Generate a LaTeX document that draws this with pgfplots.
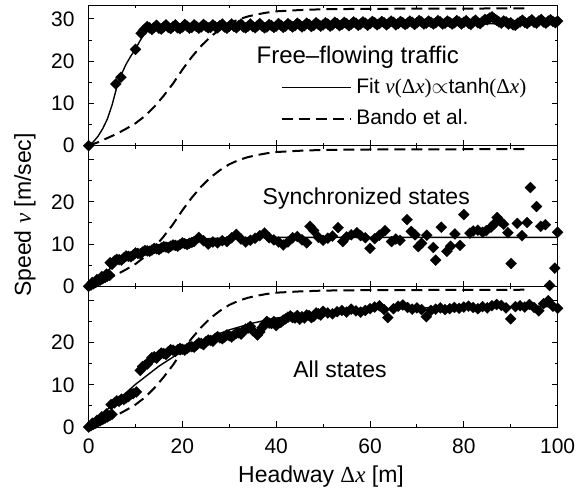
\documentclass[border=0pt]{standalone}
\usepackage{fontspec}
\setmainfont{Liberation Sans}
\newfontfamily\serif{Liberation Serif}
\usepackage{pgfplots}
\pgfplotsset{compat=1.18}
\usetikzlibrary{plotmarks}

\newcommand{\vv}{{\serif\itshape v}}
\newcommand{\dx}{{\serif Δ\textit{x}}}
\newcommand{\lp}{{\serif(}}
\newcommand{\rp}{{\serif)}}

\pgfplotsset{
  panel/.style={
    scale only axis, width=234.5pt, height=70.33pt,
    xmin=0, xmax=100, ymin=0, ymax=33.3,
    clip=false,
    axis line style={line width=0.5pt},
    tick align=inside, xtick pos=both, ytick pos=both,
    xtick={0,20,...,100}, minor xtick={10,30,...,90},
    ytick={0,10,20,30}, minor ytick={5,15,25},
    major tick length=2.8pt, minor tick length=1.5pt,
    every tick/.style={line width=0.5pt, black},
    tick label style={font=\fontsize{10.5}{12}\selectfont},
    /pgf/number format/assume math mode=true,
    yticklabel style={xshift=-3.5pt},
    xticklabel style={yshift=-2.5pt},
    anchor=south west,
  },
  noxlabels/.style={xticklabels={{},{},{},{},{},{}}},
  dat/.style={only marks, mark=square*, mark size=1.95pt,
    mark options={rotate=45, fill=black, draw=black, line width=0.1pt}},
  fitl/.style={black, line width=0.7pt, mark=none},
  bandol/.style={black, line width=1pt, dash pattern=on 5.5pt off 3pt, mark=none},
}

\begin{document}
\begin{tikzpicture}
\path[use as bounding box] (0,0) rectangle (294pt,247.5pt);

% ---------------- top panel: free-flowing traffic
\begin{axis}[panel, noxlabels, at={(44.3pt,174.67pt)},
  legend style={at={(axis cs:41,17)}, anchor=north west, draw=none, fill=none,
    font=\fontsize{10.5}{12.5}\selectfont, inner sep=0pt, row sep=2.5pt,
    /tikz/every even column/.append style={column sep=4pt}},
  legend cell align=left,
  legend image code/.code={\draw[#1] (0pt,0pt) -- (34.5pt,0pt);}]
\addplot[dat, forget plot] coordinates {
(0,0) (5.8,14.6) (6.9,16.2) (10,22.8) (11.2,26.6) (11.7,27.3)
(12,27.6) (12.5,28.2) (13,27.9) (13.5,27.5) (14,28.0) (14.5,28.5) (15,27.8) (15.5,27.6)
(16,28.1) (16.5,28.6) (17,28.0) (17.5,27.7) (18,28.2) (18.5,28.6) (19,27.9) (19.5,27.7)
(20,28.1) (20.5,28.7) (21,28.3) (21.5,27.8) (22,28.0) (22.5,28.6) (23,28.2) (23.5,27.8)
(24,28.1) (24.5,28.7) (25,28.3) (25.5,27.9) (26,28.0) (26.5,28.6) (27,28.2) (27.5,27.9)
(28,28.4) (28.5,28.8) (29,28.1) (29.5,27.8) (30,28.3) (30.5,28.8) (31,28.2) (31.5,27.9)
(32,28.4) (32.5,28.8) (33,28.1) (33.5,27.9) (34,28.3) (34.5,28.8) (35,28.2) (35.5,27.9)
(36,28.4) (36.5,28.9) (37,28.3) (37.5,27.9) (38,28.1) (38.5,28.7) (39,28.4) (39.5,28.0)
(40,28.3) (40.5,28.9) (41,28.5) (41.5,28.0) (42,28.3) (42.5,28.9) (43,28.5) (43.5,28.1)
(44,28.4) (44.5,29.0) (45,28.6) (45.5,28.1) (46,28.4) (46.5,29.0) (47,28.7) (47.5,28.2)
(48,28.5) (48.5,29.1) (49,28.7) (49.5,28.3) (50,28.6) (50.5,29.1) (51,28.8) (51.5,28.3)
(52,28.6) (52.5,29.2) (53,28.9) (53.5,28.4) (54,28.7) (54.5,29.2) (55,28.9) (55.5,28.4)
(56,28.8) (56.5,29.3) (57,29.0) (57.5,28.5) (58,28.8) (58.5,29.3) (59,29.0) (59.5,28.5)
(60,28.9) (60.5,29.4) (61,29.1) (61.5,28.6) (62,28.9) (62.5,29.4) (63,29.1) (63.5,28.6)
(64,29.0) (64.5,29.5) (65,29.2) (65.5,28.6) (66,28.9) (66.5,29.4) (67,29.1) (67.5,28.7)
(68,29.0) (68.5,29.5) (69,29.2) (69.5,28.7) (70,29.1) (70.5,29.6) (71,29.3) (71.5,28.8)
(72,29.0) (72.5,29.5) (73,29.2) (73.5,28.8) (74,29.1) (74.5,29.6) (75,29.3) (75.5,28.8)
(76,29.0) (76.5,29.5) (77,29.2) (77.5,28.8) (78,29.1) (78.5,29.6) (79,29.3) (79.5,28.8)
(80,29.2) (80.5,29.6) (81,29.0) (81.5,28.7) (82,29.3) (82.5,29.7) (83,29.1) (83.5,28.9)
(84,29.4) (84.5,29.9) (85,29.8) (85.5,30.2) (86,30.5) (86.5,30.0) (87,29.7) (87.5,29.3)
(88,29.0) (88.5,29.5) (89,29.3) (89.5,28.8) (90,29.1) (90.5,28.6) (91,28.5) (91.5,29.0)
(92,29.3) (92.5,29.7) (93,29.2) (93.5,28.9) (94,29.4) (94.5,29.8) (95,29.2) (95.5,29.0)
(96,29.5) (96.5,29.9) (97,29.3) (97.5,29.0) (98,29.5) (98.5,29.8) (99,29.4) (99.5,29.1)
(100,29.5)
};
\addplot[fitl] coordinates {
(0,0) (1,0.9) (2,2.2) (3,4.0) (4,6.3) (5,9.6) (6,13.8) (7,16.9) (8,19.3) (9,21.2)
(10,22.9) (11,24.9) (12,26.7) (13,27.8) (14,28.3) (15,28.5) (18,28.7) (100,28.9)
};
\addlegendentry{Fit \vv\lp\dx\rp$\propto$tanh\lp\dx\rp}
\addplot[bandol] coordinates {
(0,0) (2,0.8) (4,1.8) (6,2.8) (8,4.0) (10,5.3) (12,7.0) (14,9.2) (16,11.8) (18,14.7)
(20,18.0) (22,21.0) (24,23.6) (26,25.8) (28,27.5) (30,28.9) (32,29.9) (34,30.6)
(36,31.1) (38,31.5) (40,31.8) (45,32.1) (50,32.3) (60,32.4) (93.5,32.5)
};
\addlegendentry{Bando et al.}
\node[font=\fontsize{12}{14}\selectfont] at (axis cs:57.4,21) {Free–flowing traffic};
\end{axis}

% ---------------- middle panel: synchronized states
\begin{axis}[panel, noxlabels, at={(44.3pt,104.33pt)}, yticklabels={0,10,20,{}}]
\addplot[dat] coordinates {
(0,0) (0.5,0.3) (1,0.6) (1.5,0.9) (2,1.2) (2.5,1.5) (3,1.8) (3.5,2.1) (4,2.4) (4.5,2.6)
(0.8,0.9) (1.8,1.6) (2.8,2.3) (3.8,2.9)
(4.6,5.6) (5,5.2) (5.5,6.0) (6,6.4) (6.5,6.3) (7,6.2) (7.5,6.7) (8,7.2) (8.5,7.1) (9,7.0)
(9.5,7.4) (10,7.9) (10.5,7.8) (11,7.7) (11.5,8.1) (12,8.5) (12.5,8.4) (13,8.3) (13.5,8.6)
(14,9.0) (14.5,8.9) (15,8.7) (15.5,9.1) (16,9.4) (16.5,9.3) (17,9.1) (17.5,9.5) (18,9.8)
(18.5,9.7) (19,9.5) (19.5,9.9) (20,10.3) (20.5,10.1) (21,9.9) (21.5,10.2) (22,10.4)
(22.5,10.6) (23.5,11.6) (24.5,10.8) (25.5,10.0) (26.5,10.5) (27.5,10.3) (28.5,10.8)
(29.5,10.6) (30.5,11.5) (31.5,12.3) (32.5,11.2) (33.5,10.5) (34.5,10.9) (35.5,11.4)
(36.5,12.0) (37.5,12.6) (38.5,11.5) (39.5,11.0) (40.5,10.5) (41.5,9.8) (42.5,10.5)
(43.5,11.5) (44.5,11.8) (45.5,11.0) (46.5,10.3) (47.2,14.2) (48,13.2) (49,11.6)
(50,10.9) (51,11.4) (52,11.9) (53.2,13.9) (54.2,10.6) (55,11.7) (56,12.2) (57.2,12.7)
(58,12.0) (59,11.5) (60,9.0) (61,11.3) (62,12.1) (63.2,13.2) (64.6,10.6) (65.5,11.2)
(66.4,10.9) (67.9,15.8) (68.8,13.0) (69.6,12.2) (70.3,9.4) (71,10.2) (72.1,12.1)
(73.5,9.2) (74,6.2) (75.2,14.0) (76.4,8.3) (77.2,9.5) (78.1,12.4) (79.2,9.7) (80,17.0)
(81.3,12.6) (82,13.1) (83,13.3) (84,12.8) (84.8,13.2) (85.8,14.0) (86.5,14.8)
(87.1,16.3) (87.8,15.4) (88.5,14.7) (89.4,12.7) (90.1,5.4) (91.4,14.9) (92.4,12.0)
(93.5,15.1) (94.2,23.4) (95.5,18.9) (96.4,14.2) (97.4,14.6) (98.3,0.2) (99.4,4.3)
(100,12.8)
};
\addplot[fitl] coordinates {
(0,0) (2,1.9) (4,3.7) (6,5.4) (8,6.8) (10,7.9) (12,8.8) (14,9.5) (16,10.1) (18,10.5)
(20,10.8) (24,11.2) (28,11.4) (32,11.5) (40,11.6) (100,11.6)
};
\addplot[bandol] coordinates {
(0,0) (2,0.8) (4,1.8) (6,2.8) (8,4.0) (10,5.3) (12,7.0) (14,9.2) (16,11.8) (18,14.7)
(20,18.0) (22,21.0) (24,23.6) (26,25.8) (28,27.5) (30,28.9) (32,29.9) (34,30.6)
(36,31.1) (38,31.5) (40,31.8) (45,32.1) (50,32.3) (60,32.4) (93.5,32.5)
};
\node[font=\fontsize{11.5}{13}\selectfont] at (axis cs:59.2,20.8) {Synchronized states};
\end{axis}

% ---------------- bottom panel: all states
\begin{axis}[panel, at={(44.3pt,34pt)}, yticklabels={0,10,20,{}}]
\addplot[dat] coordinates {
(0,0) (0.5,0.3) (1,0.6) (1.5,0.9) (2,1.2) (2.5,1.5) (3,1.8) (3.5,2.1) (4,2.4) (4.5,2.7)
(5,3.0) (0.8,0.9) (1.8,1.6) (2.8,2.4) (3.8,3.1)
(4.8,5.3) (5.5,5.7) (6,6.2) (6.5,6.1) (7,6.6) (7.5,6.5) (8,6.9) (8.5,7.2) (9,7.8)
(9.5,7.9) (10.2,8.3)
(11,13.4) (11.5,14.3) (12,14.6) (12.5,14.9) (13,15.6) (13.5,16.4) (14,16.6) (14.5,16.3)
(15,17.0) (15.5,17.5) (16,17.4) (16.5,17.2) (17,17.8) (17.5,18.3) (18,18.2) (18.5,17.9)
(19,18.3) (19.5,18.6) (20,18.4) (20.5,18.2) (21,18.6) (21.5,19.0) (22,19.0) (22.5,18.9)
(23,19.4) (23.5,19.9) (24,19.8) (24.5,19.5) (25,20.2) (25.5,20.6) (26,20.5) (26.5,20.3)
(27,21.0) (27.5,21.4) (28,21.1) (28.5,20.9) (29,21.3) (29.5,21.8) (30,21.6) (30.5,21.3)
(31,21.8) (31.5,22.2) (32,22.3) (32.5,22.0) (33,22.8) (33.5,23.2) (34,23.4) (34.5,23.8)
(35,22.8) (36,21.8) (36.5,22.5) (37,23.5) (37.5,24.3) (38,25.0) (38.5,24.6) (39,24.5)
(39.5,25.0) (40,24.0) (40.5,24.6) (41,24.8) (41.5,25.3) (42,25.6) (42.5,26.0) (43,26.3)
(43.5,25.9) (44,25.8) (44.5,26.4) (45,25.5) (45.5,26.1) (46,25.8) (46.5,26.5) (47,26.4)
(47.5,25.9) (48,26.2) (48.5,27.0) (49,26.8) (49.5,26.5)
(50,27.4) (51,27.0) (52,26.8) (53,27.3) (54,27.6) (55,27.2) (56,27.9) (57,27.5)
(58,27.2) (59,27.6) (60,28.0) (61,28.4) (62,28.7) (63,27.8) (63.8,25.9) (65,28.0)
(66,28.6) (67,28.9) (68,28.3) (69,27.9) (70,28.2) (71,27.8) (72,26.1) (73,27.6)
(74,27.9) (75,28.2) (76,27.8) (77,28.0) (78,28.3) (79,28.1) (80,28.4) (81,28.6)
(82,28.3) (83,28.0) (84,28.5) (85,28.2) (86,28.7) (87,29.0) (88,28.8) (89,28.2)
(90,25.6) (91,28.5) (92,28.7) (93,28.4) (94,29.0) (95,28.3) (96,27.5) (97,29.2)
(98,29.9) (99,28.6) (100,28.1)
};
\addplot[fitl] coordinates {
(0,0) (5,5.2) (10,10.1) (15,14.4) (20,18.0) (25,20.9) (30,23.0) (35,24.6) (40,25.8)
(50,27.2) (60,27.9) (70,28.2) (80,28.4) (100,28.5)
};
\addplot[bandol] coordinates {
(0,0) (2,0.8) (4,1.8) (6,2.8) (8,4.0) (10,5.3) (12,7.0) (14,9.2) (16,11.8) (18,14.7)
(20,18.0) (22,21.0) (24,23.6) (26,25.8) (28,27.5) (30,28.9) (32,29.9) (34,30.6)
(36,31.1) (38,31.5) (40,31.8) (45,32.1) (50,32.3) (60,32.4) (93.5,32.5)
};
\node[font=\fontsize{11.5}{13}\selectfont] at (axis cs:53.6,13.6) {All states};
\end{axis}

\node[rotate=90, font=\fontsize{11.5}{13}\selectfont] at (12.5pt,140pt) {Speed \vv{} [m/sec]};
\node[font=\fontsize{11.5}{13}\selectfont] at (160.5pt,9pt) {Headway \dx{} [m]};
\end{tikzpicture}
\end{document}
